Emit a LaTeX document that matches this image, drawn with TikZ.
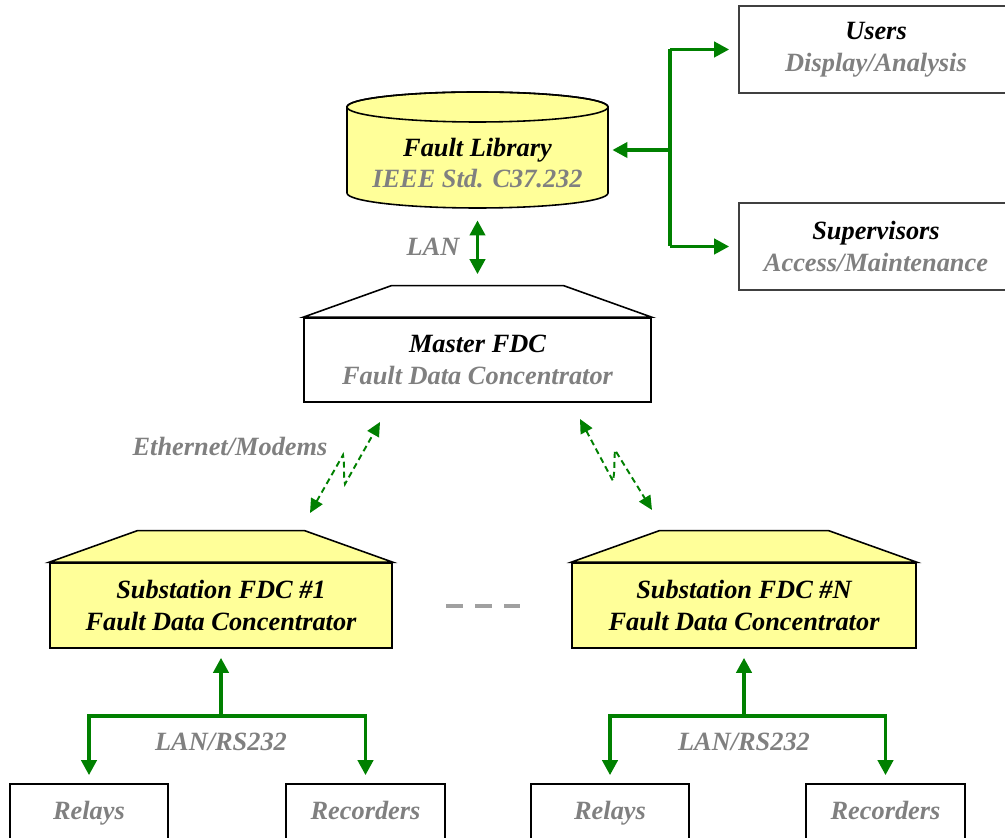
\documentclass[tikz,border=0pt]{standalone}
\usepackage{fontspec}
\setmainfont{Liberation Serif}
\usetikzlibrary{arrows.meta}
\definecolor{fdcgreen}{RGB}{0,128,0}
\definecolor{fdcyellow}{RGB}{255,255,153}
\definecolor{txtgray}{RGB}{128,128,128}

\begin{document}
\begin{tikzpicture}
	[every node/.style={font=\fontsize{15}{18}\selectfont\bfseries\itshape, align=center, inner sep=0pt},
	 box/.style={draw=black, line width=0.9pt, minimum height=1.7cm},
	 fdc/.style={box, fill=fdcyellow},
	 enduser/.style={box, draw=black!75, minimum width=5.48cm, minimum height=1.74cm},
	 leaf/.style={box, minimum height=1.14cm, text=txtgray, text height=0.9em, text depth=0.12em},
	 link/.style={draw=fdcgreen, line width=2.2pt, -{Triangle[length=0.3cm,width=0.3cm]}},
	 radio/.style={draw=fdcgreen, line width=1.1pt, dash pattern=on 0.12cm off 0.08cm,
	   {Triangle[length=0.28cm,width=0.26cm]}-{Triangle[length=0.28cm,width=0.26cm]}},
	 lbl/.style={text=txtgray}]
	\useasboundingbox (0,0) rectangle (20.1,16.74);
	
	% fault library (cylinder)
	\filldraw[fill=fdcyellow, draw=black, line width=0.9pt] (6.94,14.6) -- (6.94,12.88)
		arc[start angle=180, end angle=360, x radius=2.61, y radius=0.3] -- (12.16,14.6)
		arc[start angle=0, end angle=180, x radius=2.61, y radius=0.3] -- cycle;
	\draw[line width=0.9pt] (9.55,14.6) ellipse[x radius=2.61, y radius=0.3];
	\node[minimum width=5.22cm, minimum height=1.8cm] (lib) at (9.55,13.48) {Fault Library\\\textcolor{txtgray}{IEEE Std. C37.232}};
	
	\node[enduser] (users) at (17.52,15.75) {Users\\\textcolor{txtgray}{Display/Analysis}};
	\node[enduser] (sup) at (17.52,11.81) {Supervisors\\\textcolor{txtgray}{Access/Maintenance}};
	
	\node[box, minimum width=6.94cm, minimum height=1.68cm] (master) at (9.55,9.54) {Master FDC\\\textcolor{txtgray}{Fault Data Concentrator}};
	\node[fdc, minimum width=6.84cm] (sub1) at (4.42,4.63) {Substation FDC \#1\\Fault Data Concentrator};
	\node[fdc, minimum width=6.88cm] (subN) at (14.88,4.63) {Substation FDC \#N\\Fault Data Concentrator};
	\foreach \n/\c in {master/white,sub1/fdcyellow,subN/fdcyellow}
		\filldraw[fill=\c, draw=black, line width=0.9pt] (\n.north west) -- ([shift={(1.76,0.63)}]\n.north west)
			-- ([shift={(-1.76,0.63)}]\n.north east) -- (\n.north east) -- cycle;
	
	\node[leaf, minimum width=3.16cm] (rel1) at (1.78,0.49) {Relays};
	\node[leaf, minimum width=3.18cm] (rec1) at (7.31,0.49) {Recorders};
	\node[leaf, minimum width=3.16cm] (relN) at (12.2,0.49) {Relays};
	\node[leaf, minimum width=3.18cm] (recN) at (17.71,0.49) {Recorders};
	
	% library <-> users / supervisors
	\coordinate (hub) at (13.4,13.74);
	\draw[link, shorten >=0.08cm] (hub) -- (hub -| lib.east);
	\draw[link, -] (hub |- users.west) -- (hub |- sup.west);
	\draw[link, shorten >=0.18cm] (hub |- users.west) -- (users.west);
	\draw[link, shorten >=0.18cm] (hub |- sup.west) -- (sup.west);
	
	\draw[link, {Triangle[length=0.3cm,width=0.3cm]}-{Triangle[length=0.3cm,width=0.3cm]},
		shorten <=0.24cm, shorten >=0.86cm] (lib.south) -- (master.north);
	\node[lbl] (lan) at (8.66,11.8) {LAN};
	
	% ethernet / modem links
	\coordinate (w1a) at (6.2,6.48);
	\coordinate (w1b) at (7.6,8.3);
	\coordinate (wNa) at (11.6,8.36);
	\coordinate (wNb) at (13.04,6.54);
	\draw[radio] (w1a) -- (6.86,7.64) to[out=-80,in=100] (6.9,7.06) -- (w1b);
	\draw[radio] (wNa) -- (12.26,7.12) to[out=80,in=-95] (12.3,7.74) -- (wNb);
	\node[lbl] (eth) at (4.6,7.82) {Ethernet/Modems};
	
	\draw[txtgray!75, line width=2pt, dash pattern=on 0.34cm off 0.24cm] (8.92,4.62) -- (10.4,4.62);
	
	% substation side
	\foreach \s/\j/\r/\c in {sub1/j1/rel1/rec1,subN/jN/relN/recN}{
		\coordinate (\j) at ([yshift=-1.34cm]\s.south);
		\draw[link, shorten >=0.18cm] (\j) -- (\s.south);
		\draw[link, shorten >=0.16cm] (\j) -| (\r.north);
		\draw[link, shorten >=0.16cm] (\j) -| (\c.north);
		\node[lbl] at ([yshift=-0.52cm]\j) {LAN/RS232};
	}
\end{tikzpicture}
\end{document}
